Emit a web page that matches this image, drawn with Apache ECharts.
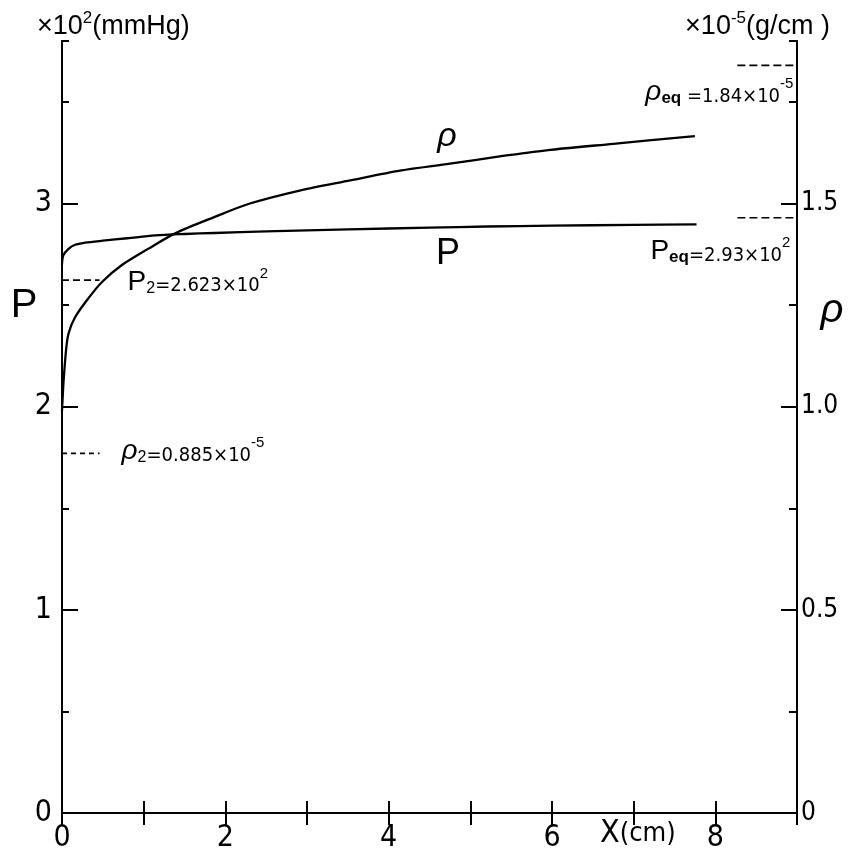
<!DOCTYPE html>
<html>
<head>
<meta charset="utf-8">
<script src="https://cdn.jsdelivr.net/npm/echarts@6/dist/echarts.min.js"></script>
<style>
  html, body { margin: 0; padding: 0; background: #fff; }
  #chart { width: 851px; height: 855px; }
</style>
</head>
<body>
<div id="chart"></div>
<script>
// Pressure P (x10^2 mmHg) along the tube, X in cm
const pressureX = [0, 0.016, 0.08, 0.16, 0.28, 0.5, 0.8, 1.14, 1.5, 1.87, 2.5, 3.5, 4.5, 5.2, 6.0, 7.0, 7.77];
const pressure  = [2.70, 2.745, 2.777, 2.797, 2.807, 2.817, 2.829, 2.843, 2.85, 2.855, 2.863, 2.873, 2.881, 2.887, 2.891, 2.895, 2.897];

// Density rho (x10^-5 g/cm^3) along the tube
const densityX = [0.0, 0.01, 0.02, 0.05, 0.08, 0.16, 0.32, 0.49, 0.73, 1.06, 1.38, 1.87, 2.3, 2.91, 3.53, 4.14, 4.75, 5.36, 5.93, 6.75, 7.75];
const density  = [0.99, 1.03, 1.065, 1.14, 1.18, 1.22, 1.266, 1.307, 1.348, 1.389, 1.426, 1.467, 1.5, 1.532, 1.557, 1.581, 1.598, 1.616, 1.631, 1.647, 1.666];

// Tick labels
const xTickLabels = ['0', '2', '4', '6', '8'];
const pTickLabels = ['0', '1', '2', '3'];
const rhoTickLabels = ['0', '0.5', '1.0', '1.5'];

// Reference levels
const P2 = 2.623;
const RHO2 = 0.885;
const PEQ = 2.93;
const RHOEQ = 1.84;

const NARROW = '"Liberation Sans Narrow","DejaVu Sans Condensed","Liberation Sans",sans-serif';
const SANS = '"Liberation Sans","DejaVu Sans",sans-serif';
const INK = '#000';

const chart = echarts.init(document.getElementById('chart'), null, { renderer: 'canvas' });

function axisBase(extra) {
  return Object.assign({
    type: 'value',
    axisLine: { show: true, lineStyle: { color: INK, width: 2 } },
    axisTick: { show: true, inside: true, length: 12, lineStyle: { color: INK, width: 2 } },
    splitLine: { show: false },
    axisLabel: { show: false }
  }, extra);
}

const pairs = (xs, ys) => xs.map((x, i) => [x, ys[i]]);
const pick = (list, decimals) => v => {
  const s = v === 0 ? '0' : v.toFixed(decimals);
  return list.includes(s) ? s : '';
};

const dashStyle = (dash) => ({ color: INK, width: 1.6, type: dash });

const option = {
  animation: false,
  backgroundColor: '#fff',
  grid: { left: 62, right: 54, top: 41, bottom: 42, containLabel: false },
  xAxis: [
    axisBase({
      position: 'bottom', min: 0, max: 9, interval: 1,
      axisLabel: {
        show: true, margin: 10, color: INK, fontFamily: NARROW, fontSize: 30,
        showMaxLabel: false, formatter: pick(xTickLabels, 0)
      }
    }),
    axisBase({ position: 'top', min: 0, max: 9, interval: 1 })
  ],
  yAxis: [
    axisBase({ position: 'left', min: 0, max: 3.8, interval: 0.5, axisTick: { show: true, inside: true, length: 7, lineStyle: { color: INK, width: 2 } } }),
    axisBase({
      position: 'left', min: 0, max: 3.8, interval: 1,
      axisTick: { show: true, inside: true, length: 16, lineStyle: { color: INK, width: 2 } },
      axisLabel: {
        show: true, margin: 10, color: INK, fontFamily: NARROW, fontSize: 30,
        showMaxLabel: false, formatter: pick(pTickLabels, 0)
      }
    }),
    axisBase({ position: 'right', min: 0, max: 1.9, interval: 0.25, axisTick: { show: true, inside: true, length: 8, lineStyle: { color: INK, width: 2 } } }),
    axisBase({
      position: 'right', min: 0, max: 1.9, interval: 0.5,
      axisTick: { show: true, inside: true, length: 16, lineStyle: { color: INK, width: 2 } },
      axisLabel: {
        show: true, margin: 4, color: INK, fontFamily: NARROW, fontSize: 26,
        showMaxLabel: false, formatter: pick(rhoTickLabels, 1)
      }
    })
  ],
  series: [
    {
      name: 'P', type: 'line', xAxisIndex: 0, yAxisIndex: 1,
      data: pairs(pressureX, pressure), showSymbol: false, symbol: 'none',
      smooth: 0.3,
      lineStyle: { color: INK, width: 2.3, join: 'round' }
    },
    {
      name: 'rho', type: 'line', xAxisIndex: 0, yAxisIndex: 3,
      data: pairs(densityX, density), showSymbol: false, symbol: 'none',
      smooth: 0.3,
      lineStyle: { color: INK, width: 2.3, join: 'round' }
    },
    {
      name: 'P2', type: 'line', xAxisIndex: 0, yAxisIndex: 1, symbol: 'none',
      data: [[0, P2], [0.46, P2]], lineStyle: dashStyle([7, 4])
    },
    {
      name: 'rho2', type: 'line', xAxisIndex: 0, yAxisIndex: 3, symbol: 'none',
      data: [[0, RHO2], [0.46, RHO2]], lineStyle: dashStyle([5, 4])
    },
    {
      name: 'Peq', type: 'line', xAxisIndex: 0, yAxisIndex: 1, symbol: 'none',
      data: [[8.27, PEQ], [9, PEQ]], lineStyle: dashStyle([8, 4])
    },
    {
      name: 'rhoEq', type: 'line', xAxisIndex: 0, yAxisIndex: 3, symbol: 'none',
      data: [[8.27, RHOEQ], [9, RHOEQ]], lineStyle: dashStyle([8, 4])
    }
  ]
};

chart.setOption(option);

// Annotations anchored to the reference levels
const pPix = (x, y) => chart.convertToPixel({ xAxisIndex: 0, yAxisIndex: 1 }, [x, y]);
const rPix = (x, y) => chart.convertToPixel({ xAxisIndex: 0, yAxisIndex: 3 }, [x, y]);

const annotRich = {
  big: { fontFamily: SANS, fontSize: 28, lineHeight: 30, verticalAlign: 'bottom', color: INK },
  rho: { fontFamily: SANS, fontSize: 28, lineHeight: 30, verticalAlign: 'bottom', color: INK, fontStyle: 'italic' },
  sub: { fontFamily: SANS, fontSize: 16, lineHeight: 20, verticalAlign: 'bottom', color: INK },
  subb: { fontFamily: SANS, fontSize: 17, lineHeight: 18, verticalAlign: 'bottom', color: INK, fontWeight: 'bold' },
  n: { fontFamily: NARROW, fontSize: 20, lineHeight: 22, verticalAlign: 'bottom', color: INK },
  sup: { fontFamily: SANS, fontSize: 15, lineHeight: 24, verticalAlign: 'top', color: INK }
};

const p2 = pPix(0.46, P2);
const r2 = rPix(0.46, RHO2);
const peq = pPix(8.27, PEQ);
const req = rPix(8.27, RHOEQ);

const titleRich = {
  t: { fontFamily: SANS, fontSize: 27, lineHeight: 30, verticalAlign: 'bottom', color: INK },
  s: { fontFamily: SANS, fontSize: 17, lineHeight: 22, verticalAlign: 'top', color: INK }
};

function richText(x, y, text, rich, align, vAlign) {
  return {
    type: 'text', x: x, y: y, silent: true,
    style: { text: text, rich: rich, align: align || 'left', verticalAlign: vAlign || 'middle', fill: INK }
  };
}

chart.setOption({
  graphic: [
    richText(37, 25, '{t|×10}{s|2}{t|(mmHg)}', titleRich, 'left'),
    richText(830, 25, '{t|×10}{s|-5}{t|(g/cm )}', titleRich, 'right'),
    { type: 'text', x: 24, y: 306, silent: true, style: { text: 'P', font: '40px ' + SANS, fill: INK, align: 'center', verticalAlign: 'middle' } },
    { type: 'text', x: 832, y: 311, silent: true, style: { text: 'ρ', font: 'italic 40px ' + SANS, fill: INK, align: 'center', verticalAlign: 'middle' } },
    richText(600, 834, '{x|X}{c|(cm)}', {
      x: { fontFamily: NARROW, fontSize: 32, lineHeight: 32, verticalAlign: 'middle', color: INK },
      c: { fontFamily: NARROW, fontSize: 27, lineHeight: 32, verticalAlign: 'middle', color: INK }
    }, 'left'),
    { type: 'text', x: 447, y: 137, silent: true, style: { text: 'ρ', font: 'italic 34px ' + SANS, fill: INK, align: 'center', verticalAlign: 'middle' } },
    { type: 'text', x: 448, y: 254, silent: true, style: { text: 'P', font: '36px ' + SANS, fill: INK, align: 'center', verticalAlign: 'middle' } },
    richText(p2[0] + 28, p2[1] + 1, '{big|P}{sub|2}{n|=' + P2.toFixed(3) + '×10}{sup|2}', annotRich, 'left'),
    richText(r2[0] + 22, r2[1] - 3, '{rho|ρ}{sub|2}{n|=' + RHO2.toFixed(3) + '×10}{sup|-5}', annotRich, 'left'),
    richText(peq[0] + 53, peq[1] + 33, '{big|P}{subb|eq}{n|=' + PEQ.toFixed(2) + '×10}{sup|2}', annotRich, 'right'),
    richText(req[0] + 56, req[1] + 26, '{rho|ρ}{subb|eq}{n| =' + RHOEQ.toFixed(2) + '×10}{sup|-5}', annotRich, 'right')
  ]
});
</script>
</body>
</html>
